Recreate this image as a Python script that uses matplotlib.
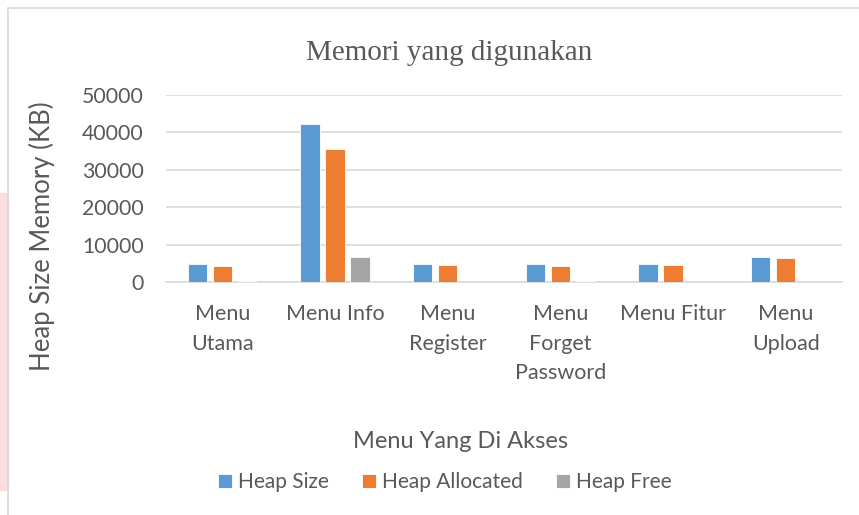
import numpy as np
import matplotlib.pyplot as plt
from matplotlib.patches import Rectangle

# data
menus = ["Menu\nUtama", "Menu Info", "Menu\nRegister", "Menu\nForget\nPassword", "Menu Fitur", "Menu\nUpload"]
heap_size = [4750, 42250, 4750, 4750, 4800, 6600]
heap_allocated = [4400, 35500, 4550, 4300, 4550, 6350]
heap_free = [200, 6600, 100, 150, 80, 120]
series_names = ["Heap Size", "Heap Allocated", "Heap Free"]
colors = ["#5B9BD5", "#ED7D31", "#A5A5A5"]
text_col = "#595959"
font = "Lato"

fig = plt.figure(figsize=(8.59, 5.15), dpi=100)
W, H = 859, 515

# pink strip on the left edge and the chart frame
fig.patches.append(Rectangle((0, 1 - 490 / H), 8 / W, (490 - 193) / H,
                             transform=fig.transFigure, color="#FCDDE0", zorder=0))
fig.patches.append(Rectangle((8 / W, -0.1), 1, 1 - 8 / H + 0.1, transform=fig.transFigure,
                             fill=False, edgecolor="#D9D9D9", lw=1.2, zorder=1))

ax = fig.add_axes([166 / W, 1 - 282 / H, (842 - 166) / W, (282 - 95) / H])
x = np.arange(len(menus))
w = 0.172
step = 0.222
for i, (vals, c, name) in enumerate(zip([heap_size, heap_allocated, heap_free], colors, series_names)):
    ax.bar(x + (i - 1) * step, vals, w, color=c, edgecolor="white", linewidth=0.6, label=name, zorder=3)

ax.set_xlim(-0.5, len(menus) - 0.5)
ax.set_ylim(0, 50000)
ax.set_yticks(range(0, 50001, 10000))
ax.grid(axis="y", color="#D9D9D9", linewidth=1.2, zorder=0)
for s in ["top", "right", "left"]:
    ax.spines[s].set_visible(False)
ax.spines["bottom"].set_color("#D9D9D9")
ax.spines["bottom"].set_linewidth(1.2)
ax.tick_params(length=0, colors=text_col)
ax.tick_params(axis="y", pad=16)
ax.tick_params(axis="x", pad=16)
ax.set_xticks(x)
ax.set_xticklabels(menus, fontsize=15.5, fontname=font, color=text_col, linespacing=1.6, va="top")
for t in ax.get_yticklabels():
    t.set_fontsize(15.3)
    t.set_fontname(font)

fig.text(42 / W, 1 - 236 / H, "Heap Size Memory (KB)", rotation=90, ha="center", va="center",
         fontsize=18.5, fontname=font, color=text_col)
fig.text(449 / W, 1 - 53 / H, "Memori yang digunakan", ha="center", va="center",
         fontsize=21, fontname="Liberation Serif", color=text_col)
fig.text(461 / W, 1 - 441 / H, "Menu Yang Di Akses", ha="center", va="center",
         fontsize=17, fontname=font, color=text_col)

leg = fig.legend(loc="center", bbox_to_anchor=(445 / W, 1 - 482 / H), ncol=3, frameon=False,
                 handlelength=0.65, handleheight=0.65, handletextpad=0.3, columnspacing=1.6,
                 prop={"family": font, "size": 15})
for t in leg.get_texts():
    t.set_color(text_col)

fig.savefig("out.png", dpi=100)
